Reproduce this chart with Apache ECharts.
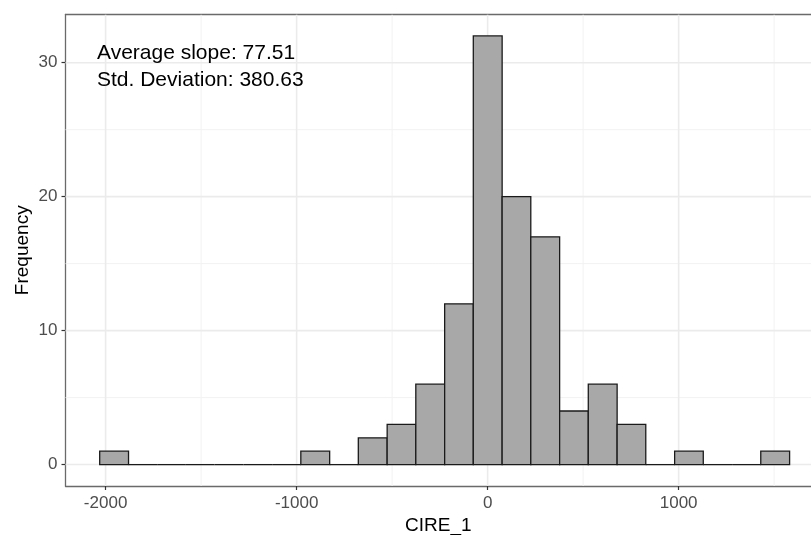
<!DOCTYPE html>
<html>
<head>
<meta charset="utf-8">
<script src="https://cdn.jsdelivr.net/npm/echarts@6/dist/echarts.min.js"></script>
<style>html,body{margin:0;padding:0;background:#fff}#c{width:811px;height:535px}</style>
</head>
<body>
<div id="c"></div>
<script>
// Histogram bin edges (CIRE_1 units) and counts per bin
var binEdges = [-2031, -1880, -1730, -1580, -1429, -1279, -1128, -978, -827, -677, -526, -376, -225, -75, 76, 226, 377, 527, 678, 828, 979, 1129, 1280, 1430, 1581];
var counts   = [1, 0, 0, 0, 0, 0, 0, 1, 0, 2, 3, 6, 12, 32, 20, 17, 4, 6, 3, 0, 1, 0, 0, 1];
var xTicks = [-2000, -1000, 0, 1000];
var xMinorGrid = [-1500, -500, 500, 1500];
var yTicks = [0, 10, 20, 30];
var yMinorGrid = [5, 15, 25];
var annotation = ['Average slope: 77.51', 'Std. Deviation: 380.63'];
var xTitle = 'CIRE_1';
var yTitle = 'Frequency';

var FONT = 'Liberation Sans, Arial, Helvetica, sans-serif';
var bins = counts.map(function (c, i) { return [binEdges[i], binEdges[i + 1], c]; });

// grid line items: [value, orientation (0 = vertical / x, 1 = horizontal / y), major flag]
var gridItems = [];
xMinorGrid.forEach(function (v) { gridItems.push([v, 0, 0]); });
yMinorGrid.forEach(function (v) { gridItems.push([v, 1, 0]); });
xTicks.forEach(function (v) { gridItems.push([v, 0, 1]); });
yTicks.forEach(function (v) { gridItems.push([v, 1, 1]); });

var BORDER = { color: '#6a6a6a', width: 1.3 };

var chart = echarts.init(document.getElementById('c'), null, { renderer: 'canvas' });
chart.setOption({
  animation: false,
  backgroundColor: '#ffffff',
  grid: { left: 65.5, top: 14.5, width: 745.5, height: 471.5, show: false, containLabel: false, outerBoundsMode: 'none' },
  xAxis: [{
    type: 'value', min: -2210, max: 1693, position: 'bottom',
    name: xTitle, nameLocation: 'middle', nameGap: 30, nameMoveOverlap: false,
    nameTextStyle: { fontFamily: FONT, fontSize: 19, color: '#000' },
    axisLine: { show: true, onZero: false, lineStyle: BORDER },
    axisTick: { show: true, customValues: xTicks, length: 4, lineStyle: { color: '#333', width: 1.2 } },
    axisLabel: { customValues: xTicks, margin: 9, fontFamily: FONT, fontSize: 17, color: '#4D4D4D', formatter: function (v) { return String(v); } },
    splitLine: { show: false }
  }, {
    type: 'value', min: -2210, max: 1693, position: 'top',
    axisLine: { show: true, onZero: false, lineStyle: BORDER },
    axisTick: { show: false }, axisLabel: { show: false }, splitLine: { show: false }
  }],
  yAxis: {
    type: 'value', min: -1.6, max: 33.6,
    name: yTitle, nameLocation: 'middle', nameGap: 33.5, nameRotate: 90, nameMoveOverlap: false,
    nameTextStyle: { fontFamily: FONT, fontSize: 19, color: '#000' },
    axisLine: { show: true, onZero: false, lineStyle: BORDER },
    axisTick: { show: true, customValues: yTicks, length: 4, lineStyle: { color: '#333', width: 1.2 } },
    axisLabel: { customValues: yTicks, margin: 8, fontFamily: FONT, fontSize: 17, color: '#4D4D4D', formatter: function (v) { return String(v); } },
    splitLine: { show: false }
  },
  graphic: [{
    type: 'text', left: 97, top: 40, z: 10,
    style: { text: annotation.join('\n'), font: '21px ' + FONT, fill: '#000', lineHeight: 27 }
  }],
  series: [
    {
      type: 'custom', z: 1, silent: true, data: gridItems, clip: true,
      encode: { x: 0, y: 0 },
      renderItem: function (params, api) {
        var cs = params.coordSys;
        var v = api.value(0), orient = api.value(1), major = api.value(2);
        var shape;
        if (orient === 0) {
          var x = api.coord([v, 0])[0];
          shape = { x1: x, y1: cs.y, x2: x, y2: cs.y + cs.height };
        } else {
          var y = api.coord([0, v])[1];
          shape = { x1: cs.x, y1: y, x2: cs.x + cs.width, y2: y };
        }
        return {
          type: 'line', shape: shape,
          style: { stroke: major ? '#EBEBEB' : '#F2F2F2', lineWidth: major ? 1.6 : 1 }
        };
      }
    },
    {
      type: 'custom', z: 3, data: bins, clip: true,
      encode: { x: [0, 1], y: 2 },
      renderItem: function (params, api) {
        var p0 = api.coord([api.value(0), api.value(2)]);
        var p1 = api.coord([api.value(1), 0]);
        return {
          type: 'rect',
          shape: { x: p0[0], y: p0[1], width: p1[0] - p0[0], height: p1[1] - p0[1] },
          style: { fill: '#A8A8A8', stroke: '#1a1a1a', lineWidth: 1.3 }
        };
      }
    }
  ]
});
</script>
</body>
</html>
